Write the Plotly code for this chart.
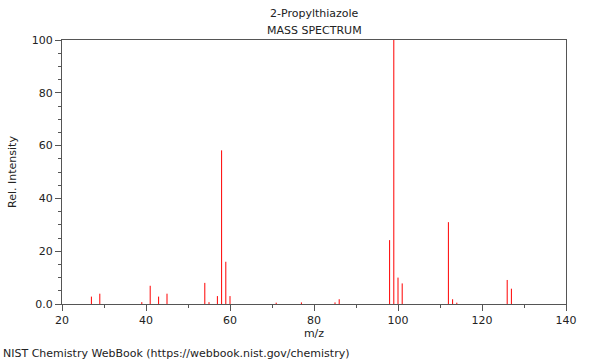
import plotly.graph_objects as go

mz = [27, 29, 39, 41, 43, 45, 54, 55, 57, 58, 59, 60, 71, 77, 85, 86,
      98, 99, 100, 101, 112, 113, 114, 126, 127]
intensity = [2.8, 3.9, 0.7, 6.9, 2.8, 3.9, 8.0, 0.7, 3.0, 58.2, 16.0, 3.0, 0.5, 0.6, 0.6, 1.8,
             24.2, 100.0, 10.0, 7.8, 31.0, 1.8, 0.5, 9.1, 5.8]

xs, ys = [], []
for m, v in zip(mz, intensity):
    xs += [m, m, None]
    ys += [0, v, None]

FONT = "DejaVu Sans"
AXC = "#555555"

fig = go.Figure()
fig.add_trace(go.Scatter(x=xs, y=ys, mode="lines",
                         line=dict(color="#ff0000", width=1),
                         hoverinfo="skip", showlegend=False))

fig.update_layout(
    width=600, height=360,
    margin=dict(l=62, r=34, t=40, b=56, autoexpand=False),
    paper_bgcolor="white", plot_bgcolor="white",
    font=dict(family=FONT, size=11, color="#222222"),
    showlegend=False,
)
fig.update_xaxes(
    range=[20, 140], tickvals=[20, 40, 60, 80, 100, 120, 140],
    showgrid=False, zeroline=False,
    showline=True, linecolor=AXC, linewidth=1, mirror=True,
    ticks="outside", ticklen=6, tickcolor=AXC, tickwidth=1,
    minor=dict(dtick=10, ticks="outside", ticklen=3, tickcolor=AXC, showgrid=False),
    title=dict(text="m/z", font=dict(size=11), standoff=1),
    tickfont=dict(size=11),
)
fig.update_yaxes(
    range=[0, 100], tickvals=[0, 20, 40, 60, 80, 100],
    ticktext=["0.0", "20", "40", "60", "80", "100"],
    showgrid=False, zeroline=False,
    showline=True, linecolor=AXC, linewidth=1, mirror=True,
    ticks="outside", ticklen=6, tickcolor=AXC, tickwidth=1,
    minor=dict(dtick=5, ticks="outside", ticklen=3, tickcolor=AXC, showgrid=False),
    title=dict(text="Rel. Intensity", font=dict(size=11), standoff=12),
    tickfont=dict(size=11),
)
fig.add_annotation(text="2-Propylthiazole", xref="paper", yref="paper",
                   x=0.5, y=1, yanchor="middle", yshift=27, showarrow=False, font=dict(size=11))
fig.add_annotation(text="MASS SPECTRUM", xref="paper", yref="paper",
                   x=0.5, y=1, yanchor="middle", yshift=10, showarrow=False, font=dict(size=11))
fig.add_annotation(text="NIST Chemistry WebBook (https://webbook.nist.gov/chemistry)",
                   xref="paper", yref="paper", x=0, xanchor="left", yanchor="middle",
                   xshift=-61, y=0, yshift=-49, showarrow=False, font=dict(size=11))

fig.write_html("out.html", config={"displayModeBar": False},
               post_script="document.body.style.margin='0';document.body.style.padding='0';")
